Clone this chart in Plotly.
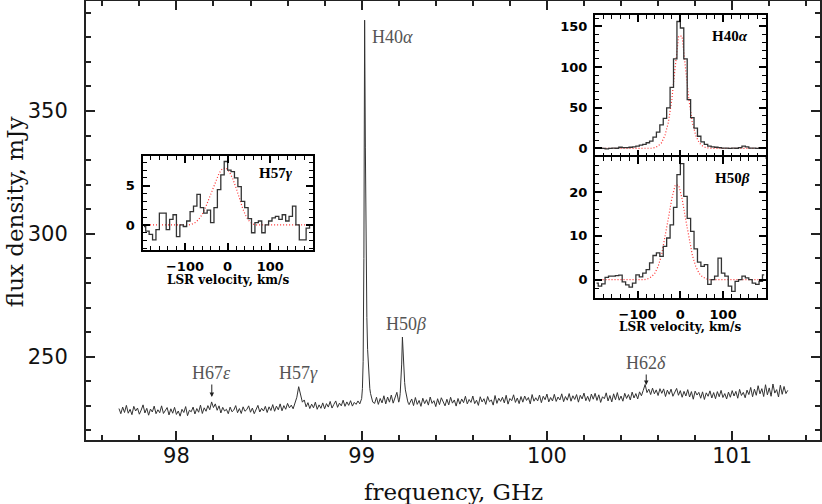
import numpy as np
import plotly.graph_objects as go

# ---- main spectrum (mJy) ----
seg1_freq = np.round(np.arange(97.69, 98.995, 0.01), 3)
seg1_flux = [
    228.9, 226.8, 229.5, 227.3, 230.2, 227.0, 228.6, 226.4, 229.8, 227.9,
    229.1, 226.6, 228.3, 230.4, 227.1, 229.0, 226.2, 228.7, 227.5, 229.9,
    226.8, 228.4, 227.2, 230.0, 226.9, 228.1, 229.3, 226.3, 228.8, 227.0,
    229.4, 226.5, 227.9, 225.8, 228.6, 227.3, 229.7, 226.0, 228.2, 227.6,
    229.5, 226.7, 228.9, 227.4, 230.3, 226.9, 229.2, 227.8, 230.1, 228.4,
    231.6, 229.3, 230.8, 228.2, 230.0, 227.1, 229.4, 227.9, 228.6, 226.8,
    229.5, 227.6, 228.3, 230.1, 227.2, 228.9, 226.9, 229.6, 227.8, 228.5,
    230.0, 227.4, 229.1, 226.8, 228.7, 230.2, 227.5, 229.0, 227.9, 229.8,
    227.3, 229.6, 228.1, 230.5, 227.8, 229.9, 228.4, 230.8, 228.0, 230.1,
    228.6, 231.0, 229.2, 230.3, 228.8, 231.2, 233.5, 237.8, 234.6, 231.5,
    232.4, 229.6, 231.3, 228.9, 230.7, 229.2, 231.5, 228.6, 230.4, 229.0,
    231.2, 228.8, 230.9, 229.5, 231.8, 229.1, 230.6, 232.0, 229.4, 231.1,
    230.0, 232.3, 229.8, 231.6, 230.2, 232.1, 229.9, 231.4, 230.6, 232.0,
    230.8,
]
h40a_freq = np.round(np.arange(99.000, 99.0601, 0.004), 3)
h40a_flux = [233.0, 237.0, 248.0, 290.0, 387.0, 335.0, 290.0, 266.0,
             253.0, 245.0, 240.0, 237.0, 235.0, 233.5, 232.5, 231.5]
seg2_freq = np.round(np.arange(99.07, 99.195, 0.01), 3)
seg2_flux = [231.0, 233.5, 230.6, 233.0, 231.2, 234.1, 230.8, 233.6, 231.5,
             234.4, 231.1, 233.2, 235.5]
h50b_freq = np.round(np.arange(99.200, 99.2561, 0.004), 3)
h50b_flux = [231.5, 232.5, 235.0, 239.0, 247.0, 258.0, 250.0, 244.0,
             239.5, 236.5, 234.5, 233.0, 232.0, 231.0, 230.5]
seg3_freq = np.round(np.arange(99.27, 101.305, 0.01), 3)
seg3_flux = [
    232.8, 230.1, 233.4, 230.6, 232.2, 229.8, 233.1, 230.9, 232.5, 230.3,
    233.6, 231.0, 232.1, 229.7, 232.9, 230.5, 233.3, 231.2, 230.0, 232.7,
    230.4, 233.5, 231.1, 232.4, 229.9, 233.0, 230.7, 232.8, 231.3, 233.9,
    230.8, 232.6, 231.4, 234.0, 230.9, 232.3, 230.2, 233.7, 231.6, 232.9,
    230.6, 233.8, 231.7, 232.4, 230.3, 234.2, 231.0, 233.1, 231.8, 233.5,
    231.2, 234.3, 230.7, 233.0, 232.1, 234.5, 231.4, 233.2, 230.9, 233.8,
    231.5, 234.0, 232.2, 233.4, 230.8, 234.6, 231.9, 233.3, 232.0, 234.4,
    231.3, 233.9, 232.5, 234.8, 231.6, 233.4, 232.0, 234.7, 231.8, 233.6,
    232.4, 234.9, 231.7, 233.8, 232.3, 235.0, 231.9, 234.1, 232.6, 234.6,
    231.5, 234.3, 232.8, 235.2, 232.1, 233.9, 231.8, 234.8, 232.7, 235.1,
    232.2, 234.5, 231.4, 233.7, 232.9, 235.3, 232.0, 234.2, 231.6, 234.9,
    232.5, 235.4, 232.3, 234.0, 231.9, 235.1, 233.0, 234.6, 232.4, 235.6,
    233.2, 235.0, 232.8, 235.7, 234.1, 236.3, 238.7, 235.4, 236.8, 234.6,
    237.2, 234.9, 236.5, 234.2, 237.0, 235.1, 236.9, 233.8, 236.4, 234.7,
    236.8, 233.9, 235.6, 237.1, 234.3, 236.2, 233.5, 235.9, 234.0, 236.6,
    233.6, 235.8, 232.7, 236.0, 234.4, 235.5, 233.1, 235.7, 232.6, 235.3,
    233.9, 236.1, 233.2, 235.4, 232.9, 235.8, 233.7, 236.3, 233.4, 235.0,
    232.8, 235.6, 233.5, 236.2, 234.0, 235.9, 233.1, 236.7, 234.2, 235.5,
    233.3, 236.4, 234.6, 237.5, 233.7, 236.8, 234.3, 238.2, 234.9, 237.0,
    233.8, 238.6, 234.5, 237.3, 233.9, 238.9, 235.2, 236.6, 233.6, 238.4,
    234.7, 237.9, 235.0, 236.3,
]

freq = np.concatenate([seg1_freq, h40a_freq, seg2_freq, h50b_freq, seg3_freq])
flux = np.concatenate([seg1_flux, h40a_flux, seg2_flux, h50b_flux, seg3_flux])

# ---- inset profiles (mJy vs LSR velocity, km/s) ----
vel = np.arange(-196, 200, 8)

h57g_obs = [-0.2, -0.8, -1.2, -1.9, -0.6, 1.5, 1.5, -0.6, 0.7, 1.3,
            -1.5, 0.0, -0.2, 0.5, 1.7, 2.4, 3.9, 2.2, 1.5, 1.9,
            0.3, 2.2, 4.5, 6.4, 8.1, 7.0, 6.8, 6.0, 4.9, 3.0,
            2.2, 0.8, -1.0, 0.3, 0.5, -1.0, 0.0, 0.5, 0.9, 1.1,
            0.7, 1.3, 0.5, 1.1, 2.4, 0.0, -1.9, -1.9, -0.4, 0.0]
h57g_fit = [0, 0, 0, 0, 0, 0, 0, 0, 0, 0,
            0, 0, 0, 0, 0.1, 0.3, 0.7, 1.3, 2.2, 3.3,
            4.5, 5.7, 6.6, 7.2, 7.3, 6.8, 5.9, 4.7, 3.3, 2.0,
            1.0, 0.4, 0.1, 0, 0, 0, 0, 0, 0, 0,
            0, 0, 0, 0, 0, 0, 0, 0, 0, 0]

h40a_obs = [0.5, 0.3, 0.0, -0.5, 0.0, 0.5, 0.3, 1.5, 1.0, 1.0,
            1.5, 2.0, 3.0, 4.0, 5.0, 7.0, 9.0, 14.0, 20.0, 29.0,
            37.0, 50.0, 75.0, 110.0, 156.0, 148.0, 110.0, 60.0, 38.0, 25.0,
            15.0, 8.0, 5.0, 3.0, 2.0, 1.5, 1.0, 0.5, 0.5, 0.0,
            0.5, 0.3, 1.0, 3.0, 2.0, 0.5, 0.5, 0.0, 1.0, 1.0]
h40a_fit = [0, 0, 0, 0, 0, 0, 0, 0, 0, 0,
            0, 0, 0, 0, 0, 0, 0.3, 1.0, 3.0, 7.0,
            16.0, 32.0, 60.0, 100.0, 138.0, 138.0, 100.0, 60.0, 32.0, 16.0,
            7.0, 3.0, 1.0, 0.3, 0, 0, 0, 0, 0, 0,
            0, 0, 0, 0, 0, 0, 0, 0, 0, 0]

h50b_obs = [-0.8, -1.5, -1.0, 0.5, 0.8, 0.8, 0.9, 1.0, -0.5, -1.2,
            -1.7, -0.8, 1.1, 0.6, 1.5, 2.3, 3.8, 5.5, 6.1, 5.3,
            7.6, 9.5, 12.5, 16.5, 24.0, 26.5, 19.0, 14.0, 11.0, 7.0,
            4.0, 3.0, 3.4, -1.1, 0.0, 0.8, 4.9, 1.5, 0.8, -1.5,
            -2.7, -0.4, 0.0, 0.8, 0.4, 0.0, -0.8, -1.1, -0.4, 1.1]
h50b_fit = [0, 0, 0, 0, 0, 0, 0, 0, 0, 0,
            0, 0, 0, 0, 0, 0.2, 0.6, 1.4, 3.0, 5.6,
            9.5, 14.0, 18.5, 21.6, 21.6, 18.5, 14.0, 9.5, 5.6, 3.0,
            1.4, 0.6, 0.2, 0, 0, 0, 0, 0, 0, 0,
            0, 0, 0, 0, 0, 0, 0, 0, 0, 0]

# ---- style ----
frame = '#222222'
line_col = '#333333'
fit_col = '#ff3030'
sans = 'DejaVu Sans'
serif = 'DejaVu Serif'
lab_serif = 'Liberation Serif'

fig = go.Figure()

fig.add_trace(go.Scatter(x=freq, y=flux, mode='lines', xaxis='x', yaxis='y',
                         line=dict(color=line_col, width=1), hoverinfo='skip'))

insets = [('x2', 'y2', h57g_obs, h57g_fit),
          ('x3', 'y3', h40a_obs, h40a_fit),
          ('x4', 'y4', h50b_obs, h50b_fit)]
for xa, ya, obs, fit in insets:
    fig.add_trace(go.Scatter(x=vel, y=fit, mode='lines', xaxis=xa, yaxis=ya,
                             line=dict(color=fit_col, width=1.2, dash='1px,2px')))
    fig.add_trace(go.Scatter(x=vel, y=obs, mode='lines', xaxis=xa, yaxis=ya,
                             line=dict(color=line_col, width=1.3, shape='hvh')))


def main_axis(rng, dtick, minor, standoff):
    return dict(range=rng, dtick=dtick, ticks='inside', ticklen=9, tickwidth=1.5,
                tickcolor=frame, mirror='ticks', showline=True, linewidth=2,
                linecolor=frame, showgrid=False, zeroline=False, automargin=False,
                ticklabelstandoff=standoff,
                tickfont=dict(family=sans, size=21, color='#111111'),
                minor=dict(dtick=minor, ticks='inside', ticklen=5, tickwidth=1.5,
                           tickcolor=frame, showgrid=False))


def inset_axis(dom, rng, dtick, minor, anchor, labels=True):
    return dict(domain=dom, range=rng, dtick=dtick, tick0=0, anchor=anchor,
                ticks='inside', ticklen=7, tickwidth=1.5, tickcolor='black',
                mirror='ticks', showline=True, linewidth=2, linecolor='black',
                showgrid=False, zeroline=False, showticklabels=labels,
                automargin=False, ticklabelstandoff=3,
                tickfont=dict(family=sans, size=13, color='black', weight='bold'),
                minor=dict(dtick=minor, ticks='inside', ticklen=4, tickwidth=1.2,
                           tickcolor='black', showgrid=False))


x57 = [0.077, 0.3089]
xr = [0.6935, 0.926]

fig.update_layout(
    width=822, height=504,
    margin=dict(l=86, r=2, t=1, b=64, autoexpand=False),
    paper_bgcolor='white', plot_bgcolor='white',
    showlegend=False,
    xaxis=main_axis([97.512, 101.474], 1, 0.2, -4),
    yaxis=main_axis([216.1, 394.8], 50, 10, 12),
    xaxis2=inset_axis(x57, [-199.5, 199.5], 100, 20, 'y2'),
    yaxis2=inset_axis([0.4328, 0.6469], [-3.2, 8.8], 5, 1, 'x2'),
    xaxis3=inset_axis(xr, [-199.5, 199.5], 100, 20, 'y3', labels=False),
    yaxis3=inset_axis([0.6446, 0.9681], [-10.5, 164], 50, 10, 'x3'),
    xaxis4=inset_axis(xr, [-199.5, 199.5], 100, 20, 'y4'),
    yaxis4=inset_axis([0.3235, 0.6446], [-4.2, 28], 10, 2, 'x4'),
)

ann = []
mid = dict(xref='paper', yref='paper', xanchor='center', yanchor='middle', showarrow=False)
# axis titles
ann.append(dict(text='frequency, GHz', x=0.5, y=-0.1178,
                font=dict(family=serif, size=23, color='#111111'), **mid))
ann.append(dict(text='flux density, mJy', x=-0.0967, y=0.519, textangle=-90,
                font=dict(family=serif, size=23, color='#111111'), **mid))
# inset x titles
for xc, yc in [(0.193, 0.3645), (0.8088, 0.2567)]:
    ann.append(dict(text='LSR velocity, km/s', x=xc, y=yc,
                    font=dict(family=serif, size=12, color='black', weight='bold'),
                    **mid))
# inset line names
for txt, xc, yc in [('H57<i>γ</i>', 0.2847, 0.608), ('H40<i>α</i>', 0.9046, 0.9203),
                    ('H50<i>β</i>', 0.9074, 0.5968)]:
    ann.append(dict(text=txt, xref='paper', yref='paper', x=xc, y=yc, xanchor='right',
                    yanchor='middle', showarrow=False,
                    font=dict(family=lab_serif, size=15, color='black', weight='bold')))
# line labels on the spectrum
lab_font = dict(family=lab_serif, size=18, color='#555555')
ann.append(dict(text='H40<i>α</i>', x=99.043, y=380.1, xanchor='left', yanchor='middle',
                showarrow=False, font=lab_font))
ann.append(dict(text='H50<i>β</i>', x=99.24, y=263.3, xanchor='center', yanchor='middle',
                showarrow=False, font=lab_font))
ann.append(dict(text='H57<i>γ</i>', x=98.66, y=243.3, xanchor='center', yanchor='middle',
                showarrow=False, font=lab_font))
ann.append(dict(text='H67<i>ε</i>', x=98.191, y=233.6, ax=0, ay=-24, showarrow=True,
                arrowhead=2, arrowsize=0.9, arrowwidth=1, arrowcolor='#222222',
                font=lab_font))
ann.append(dict(text='H62<i>δ</i>', x=100.536, y=238.5, ax=0, ay=-22, showarrow=True,
                arrowhead=2, arrowsize=0.9, arrowwidth=1, arrowcolor='#222222',
                font=lab_font))
fig.update_layout(annotations=ann)

# the page body has a default 8px margin; drop it so the figure sits at the corner
fig.write_html("out.html", config={'displayModeBar': False},
               post_script="document.body.style.margin='0px';")
